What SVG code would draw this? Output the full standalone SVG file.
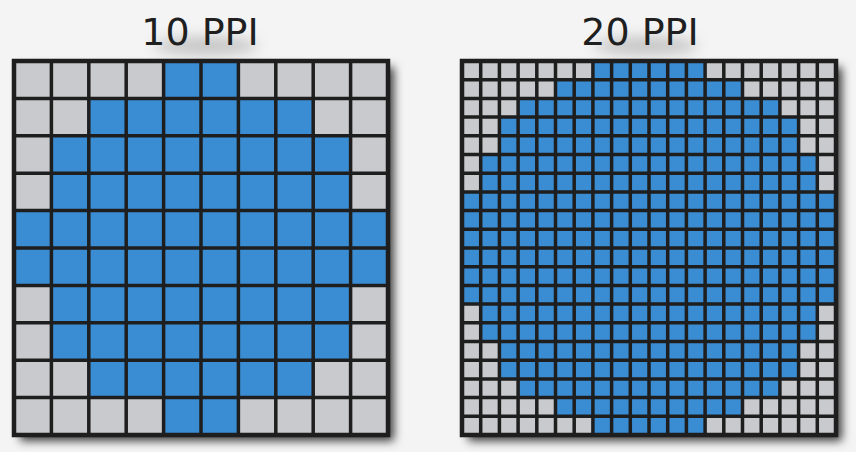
<svg xmlns="http://www.w3.org/2000/svg" width="856" height="452" viewBox="0 0 856 452">
<style>
.lbl{font-family:"DejaVu Sans","Verdana",sans-serif;font-size:38px;fill:#1f1f1f;text-anchor:middle}
.glow{fill:#8a8a8a;opacity:.45}
.gray{fill:#c9cacd}
.blue{fill:#3a8dd3}
.ln{fill:none;stroke:#1e1e1e;stroke-width:3.5;vector-effect:non-scaling-stroke}
.frame{fill:none;stroke:#1e1e1e;stroke-width:4.5;vector-effect:non-scaling-stroke}
</style>
<defs>
<filter id="sh" x="-10%" y="-10%" width="130%" height="130%">
<feDropShadow dx="6" dy="6" stdDeviation="5" flood-color="#000" flood-opacity="0.75"/>
</filter>
<filter id="blur" x="-50%" y="-100%" width="200%" height="300%">
<feGaussianBlur stdDeviation="7"/>
</filter>
</defs>
<rect width="856" height="452" fill="#f4f4f4"/>
<g id="label-10ppi">
<ellipse class="glow" cx="206" cy="46" rx="52" ry="9" filter="url(#blur)"/>
<text class="lbl" x="200" y="45">10 PPI</text>
</g>
<g id="label-20ppi">
<ellipse class="glow" cx="646" cy="46" rx="52" ry="9" filter="url(#blur)"/>
<text class="lbl" x="640" y="45">20 PPI</text>
</g>
<g id="grid-10ppi">
<rect x="14" y="61" width="374" height="374" fill="#1e1e1e" filter="url(#sh)"/>
<g transform="translate(14 61) scale(37.4)">
<rect class="gray" x="0" y="0" width="10" height="10"/>
<path class="blue" d="M4 0H6V1H8V2H9V4H10V6H9V8H8V9H6V10H4V9H2V8H1V6H0V4H1V2H2V1H4Z"/>
<path class="ln" d="M1 0V10M2 0V10M3 0V10M4 0V10M5 0V10M6 0V10M7 0V10M8 0V10M9 0V10M0 1H10M0 2H10M0 3H10M0 4H10M0 5H10M0 6H10M0 7H10M0 8H10M0 9H10"/>
<rect class="frame" x="0" y="0" width="10" height="10"/>
</g>
</g>
<g id="grid-20ppi">
<rect x="462" y="61" width="374" height="374" fill="#1e1e1e" filter="url(#sh)"/>
<g transform="translate(462 61) scale(18.7)">
<rect class="gray" x="0" y="0" width="20" height="20"/>
<path class="blue" d="M7 0H13V1H15V2H17V3H18V5H19V7H20V13H19V15H18V17H17V18H15V19H13V20H7V19H5V18H3V17H2V15H1V13H0V7H1V5H2V3H3V2H5V1H7Z"/>
<path class="ln" d="M1 0V20M2 0V20M3 0V20M4 0V20M5 0V20M6 0V20M7 0V20M8 0V20M9 0V20M10 0V20M11 0V20M12 0V20M13 0V20M14 0V20M15 0V20M16 0V20M17 0V20M18 0V20M19 0V20M0 1H20M0 2H20M0 3H20M0 4H20M0 5H20M0 6H20M0 7H20M0 8H20M0 9H20M0 10H20M0 11H20M0 12H20M0 13H20M0 14H20M0 15H20M0 16H20M0 17H20M0 18H20M0 19H20"/>
<rect class="frame" x="0" y="0" width="20" height="20"/>
</g>
</g>
</svg>
